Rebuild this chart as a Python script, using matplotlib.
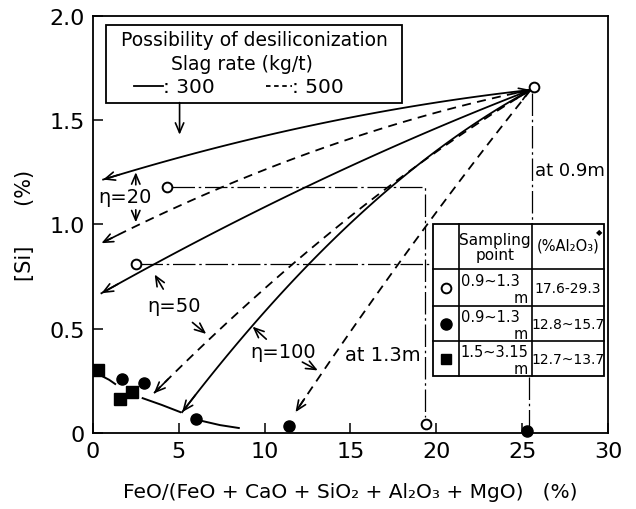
import numpy as np
import matplotlib
matplotlib.use('Agg')
import matplotlib.pyplot as plt
from matplotlib.patches import Rectangle

plt.rcParams['font.family'] = ['DejaVu Sans']

# measured points
open_x = [25.7, 4.3, 2.5, 19.4]
open_y = [1.66, 1.18, 0.81, 0.045]
fill_x = [1.7, 3.0, 6.0, 11.4, 25.3]
fill_y = [0.26, 0.24, 0.065, 0.035, 0.01]
sq_x = [0.3, 1.6, 2.3]
sq_y = [0.30, 0.165, 0.195]

# trend curve near the bottom (three visible pieces)
trend_x = [[0.6, 0.95, 1.3], [2.9, 4.0, 5.1], [6.4, 7.4, 8.5]]
trend_y = [[0.27, 0.255, 0.235], [0.167, 0.135, 0.10], [0.057, 0.038, 0.024]]

# desiliconization paths from the top point (slag 300: solid, 500: dashed)
start = (25.5, 1.645)
solid_end = [(0.6, 1.215), (0.5, 0.67), (5.2, 0.10)]
solid_bow = [0.05, 0.045, 0.16]
dash_end = [(0.5, 0.91), (3.55, 0.19), (11.8, 0.10)]
dash_bow = [0.077, 0.09, 0.035]

table_rows = [('0.9~1.3', '17.6-29.3'), ('0.9~1.3', '12.8~15.7'), ('1.5~3.15', '12.7~13.7')]


def bow_curve(p0, p1, d):
    t = np.linspace(0, 1, 80)
    x = p0[0] + (p1[0] - p0[0]) * t
    y = p0[1] + (p1[1] - p0[1]) * t + 4 * t * (1 - t) * d
    return x, y


fig = plt.figure(figsize=(6.36, 5.1), dpi=100)
ax = fig.add_axes([0.146, 0.149, 0.81, 0.818])
ax.set_xlim(0, 30)
ax.set_ylim(0, 2.0)

arrow_kw = dict(arrowstyle='->,head_length=0.7,head_width=0.3', lw=1.2, color='black',
                shrinkA=0, shrinkB=0)
dashes = (0, (5, 3.5))

for ends, bows, ls in [(solid_end, solid_bow, '-'), (dash_end, dash_bow, dashes)]:
    for e, b in zip(ends, bows):
        x, y = bow_curve(start, e, b)
        ax.plot(x, y, color='black', lw=1.3, ls=ls, zorder=2)
        ax.annotate('', xy=(x[-1], y[-1]), xytext=(x[-4], y[-4]), arrowprops=arrow_kw, zorder=3)

# small heads pointing back at the top point
for e, b in zip(dash_end[:2], dash_bow[:2]):
    x, y = bow_curve(start, e, b)
    ax.annotate('', xy=(x[0], y[0]), xytext=(x[3], y[3]), arrowprops=arrow_kw, zorder=3)

for tx, ty in zip(trend_x, trend_y):
    ax.plot(tx, ty, color='black', lw=1.4, zorder=2)

# dash-dot guide lines
dd = (0, (18, 3, 2, 3))
ax.plot([4.6, 19.35, 19.35], [1.18, 1.18, 0.075], color='black', lw=0.9, ls=dd, zorder=1)
ax.plot([2.75, 25.5], [0.81, 0.81], color='black', lw=0.9, ls=dd, zorder=1)
ax.plot([25.6, 25.6], [1.63, 1.0], color='black', lw=0.9, ls=dd, zorder=1)
ax.plot([25.4, 25.4], [0.27, 0.03], color='black', lw=0.9, ls=dd, zorder=1)

ax.plot(open_x, open_y, 'o', ms=7, mfc='white', mec='black', mew=1.4, zorder=5)
ax.plot(fill_x, fill_y, 'o', ms=8, color='black', zorder=5, clip_on=False)
ax.plot(sq_x, sq_y, 's', ms=8, color='black', zorder=5)

# top-left box
ax.add_patch(Rectangle((0.76, 1.584), 17.24, 0.373, fill=True, fc='white', ec='black', lw=1.3, zorder=6))
ax.text(9.4, 1.885, 'Possibility of desiliconization', ha='center', va='center', fontsize=13.5, zorder=7)
ax.text(8.7, 1.77, 'Slag rate (kg/t)', ha='center', va='center', fontsize=13.5, zorder=7)
ax.plot([2.4, 4.1], [1.665, 1.665], color='black', lw=1.3, zorder=7)
ax.text(4.1, 1.66, ': 300', ha='left', va='center', fontsize=14.5, zorder=7)
ax.plot([10.1, 11.6], [1.665, 1.665], color='black', lw=1.3, ls=(0, (2.5, 2)), zorder=7)
ax.text(11.6, 1.66, ': 500', ha='left', va='center', fontsize=14.5, zorder=7)
ax.annotate('', xy=(5.05, 1.43), xytext=(5.05, 1.584), arrowprops=arrow_kw, zorder=7)

# eta labels
ax.text(1.85, 1.135, '\u03b7=20', ha='center', va='center', fontsize=14)
ax.annotate('', xy=(2.5, 1.25), xytext=(2.5, 1.19), arrowprops=arrow_kw)
ax.annotate('', xy=(2.5, 1.01), xytext=(2.5, 1.07), arrowprops=arrow_kw)
ax.text(4.7, 0.61, '\u03b7=50', ha='center', va='center', fontsize=14)
ax.annotate('', xy=(3.6, 0.76), xytext=(4.1, 0.69), arrowprops=arrow_kw)
ax.annotate('', xy=(6.6, 0.475), xytext=(5.8, 0.53), arrowprops=arrow_kw)
ax.text(11.1, 0.39, '\u03b7=100', ha='center', va='center', fontsize=14)
ax.annotate('', xy=(9.3, 0.51), xytext=(10.1, 0.45), arrowprops=arrow_kw)
ax.annotate('', xy=(13.1, 0.30), xytext=(12.2, 0.34), arrowprops=arrow_kw)

ax.text(25.75, 1.262, 'at 0.9m', ha='left', va='center', fontsize=13)
ax.text(19.1, 0.378, 'at 1.3m', ha='right', va='center', fontsize=14)

# sampling table
cx = [19.8, 21.3, 25.57, 29.76]
cy = [1.0, 0.785, 0.608, 0.44, 0.273]
ax.add_patch(Rectangle((cx[0], cy[-1]), cx[-1] - cx[0], cy[0] - cy[-1], fc='white', ec='black', lw=1.3, zorder=6))
for xv in cx[1:-1]:
    ax.plot([xv, xv], [cy[-1], cy[0]], color='black', lw=1.2, zorder=7)
for yv in cy[1:-1]:
    ax.plot([cx[0], cx[-1]], [yv, yv], color='black', lw=1.2, zorder=7)
ax.text((cx[1] + cx[2]) / 2, (cy[0] + cy[1]) / 2, 'Sampling\npoint', ha='center', va='center',
        fontsize=11, linespacing=1.0, zorder=8)
ax.text((cx[2] + cx[3]) / 2, (cy[0] + cy[1]) / 2 + 0.01, '(%Al\u2082O\u2083)', ha='center', va='center',
        fontsize=10.5, zorder=8)
ax.text(cx[3] - 0.3, cy[0] - 0.035, '\u25c6', ha='center', va='center', fontsize=6, zorder=8)
marks = [dict(marker='o', mfc='white', mec='black', mew=1.4, ms=7),
         dict(marker='o', color='black', ms=8),
         dict(marker='s', color='black', ms=7)]
for i, (rng, al) in enumerate(table_rows):
    ym = (cy[i + 1] + cy[i + 2]) / 2
    ax.plot([(cx[0] + cx[1]) / 2], [ym], ls='none', zorder=8, **marks[i])
    ax.text(cx[1] + 0.12, ym + 0.035, rng, ha='left', va='center', fontsize=10.5, zorder=8)
    ax.text(cx[2] - 0.25, ym - 0.045, 'm', ha='right', va='center', fontsize=10.5, zorder=8)
    ax.text((cx[2] + cx[3]) / 2, ym, al, ha='center', va='center', fontsize=10, zorder=8)

ax.set_xticks([0, 5, 10, 15, 20, 25, 30])
ax.set_xticklabels(['0', '5', '10', '15', '20', '25', '30'])
ax.set_yticks([0, 0.5, 1.0, 1.5, 2.0])
ax.set_yticklabels(['0', '0.5', '1.0', '1.5', '2.0'])
ax.tick_params(direction='in', length=7, width=1.1, labelsize=16, pad=6)
for s in ax.spines.values():
    s.set_linewidth(1.3)

ax.set_xlabel('FeO/(FeO + CaO + SiO\u2082 + Al\u2082O\u2083 + MgO)   (%)', fontsize=14.5, labelpad=15)
ax.set_ylabel('[Si]      (%)', fontsize=15, labelpad=10)

plt.savefig('out.png', dpi=100)
